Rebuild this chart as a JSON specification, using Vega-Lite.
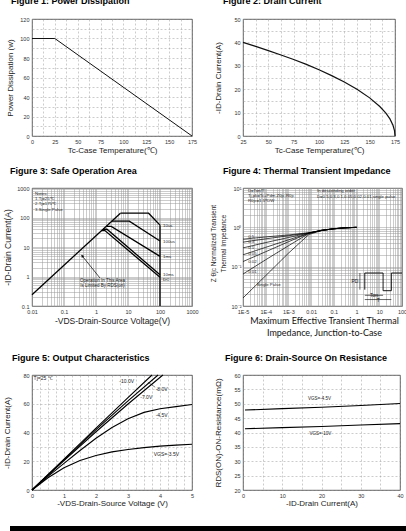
{
 "$schema": "https://vega.github.io/schema/vega-lite/v6.json",
 "padding": {"left": 0, "top": -4, "right": 0, "bottom": 0},
 "background": "white",
 "spacing": 0,
 "bounds": "flush",
 "columns": 5,
 "config": {
  "font": "Liberation Sans",
  "view": {"stroke": null},
  "axis": {"labelFontSize": 5.5, "labelColor": "#333", "labelFont": "Liberation Sans", "titleFont": "Liberation Sans", "titleFontSize": 8, "titleFontWeight": "normal", "titleColor": "#222", "domain": false, "ticks": false, "tickSize": 0, "labelPadding": 3, "labelFlush": false, "labelOverlap": false, "gridColor": "#999", "gridWidth": 0.5},
  "title": {"font": "Liberation Sans", "fontSize": 9, "fontWeight": "bold", "anchor": "start", "frame": "group", "baseline": "bottom", "offset": 10, "color": "#000"}
 },
 "datasets": {
  "d1": [{"x": 0, "y": 100}, {"x": 25, "y": 100}, {"x": 175, "y": 0}],
  "d2": [{"x": 25, "y": 40}, {"x": 37.5, "y": 38.3}, {"x": 50, "y": 36.5}, {"x": 62.5, "y": 34.6}, {"x": 75, "y": 32.7}, {"x": 87.5, "y": 30.6}, {"x": 100, "y": 28.3}, {"x": 112.5, "y": 25.8}, {"x": 125, "y": 23.1}, {"x": 137.5, "y": 20}, {"x": 150, "y": 16.3}, {"x": 160, "y": 12.6}, {"x": 166, "y": 9.8}, {"x": 170, "y": 7.3}, {"x": 173, "y": 4.6}, {"x": 174.5, "y": 2.3}, {"x": 175, "y": 0}],
  "d3": [
   {"s": "rds", "i": 0, "x": 0.01, "y": 0.24}, {"s": "rds", "i": 1, "x": 5.8, "y": 140},
   {"s": "us10", "i": 0, "x": 5.8, "y": 140}, {"s": "us10", "i": 1, "x": 44, "y": 140}, {"s": "us10", "i": 2, "x": 100, "y": 55},
   {"s": "us100", "i": 0, "x": 3.1, "y": 75}, {"s": "us100", "i": 1, "x": 11, "y": 75}, {"s": "us100", "i": 2, "x": 100, "y": 16},
   {"s": "ms1", "i": 0, "x": 2.1, "y": 50}, {"s": "ms1", "i": 1, "x": 3, "y": 50}, {"s": "ms1", "i": 2, "x": 100, "y": 4.8},
   {"s": "ms10", "i": 0, "x": 1.65, "y": 40}, {"s": "ms10", "i": 1, "x": 2.2, "y": 40}, {"s": "ms10", "i": 2, "x": 100, "y": 1.15},
   {"s": "dc", "i": 0, "x": 1.5, "y": 36}, {"s": "dc", "i": 1, "x": 1.9, "y": 36}, {"s": "dc", "i": 2, "x": 100, "y": 0.95},
   {"s": "bv", "i": 0, "x": 100, "y": 0.1}, {"s": "bv", "i": 1, "x": 100, "y": 55}
  ],
  "d3a": [{"i": 0, "x": 1.33, "y": 0.89}, {"i": 1, "x": 0.37, "y": 5}],
  "d3h": [{"x": 0.37, "y": 5}],
  "d3n": [
   {"x": 0.0125, "y": 650, "t": "Notes:"}, {"x": 0.0125, "y": 430, "t": "1.Tj=25℃"}, {"x": 0.0125, "y": 280, "t": "2.Tj=175℃"}, {"x": 0.0125, "y": 180, "t": "3.Single Pulse"},
   {"x": 125, "y": 50, "t": "10us"}, {"x": 125, "y": 15, "t": "100us"}, {"x": 125, "y": 4.6, "t": "1ms"}, {"x": 125, "y": 1.15, "t": "10ms"}, {"x": 125, "y": 0.77, "t": "DC"}
  ],
  "d3c": [{"x": 1.6, "y": 0.68, "t": "Operation In This Area"}, {"x": 1.6, "y": 0.47, "t": "Is Limited By RDS(on)"}],
  "d4": [
   {"s": "0.5", "x": 0.00001, "y": 0.5}, {"s": "0.5", "x": 0.0001, "y": 0.57}, {"s": "0.5", "x": 0.001, "y": 0.64}, {"s": "0.5", "x": 0.008, "y": 0.73}, {"s": "0.5", "x": 0.03, "y": 0.84}, {"s": "0.5", "x": 0.1, "y": 0.92}, {"s": "0.5", "x": 0.3, "y": 0.97}, {"s": "0.5", "x": 1, "y": 1},
   {"s": "0.3", "x": 0.00001, "y": 0.42}, {"s": "0.3", "x": 0.0001, "y": 0.51}, {"s": "0.3", "x": 0.001, "y": 0.61}, {"s": "0.3", "x": 0.008, "y": 0.72}, {"s": "0.3", "x": 0.03, "y": 0.84}, {"s": "0.3", "x": 0.1, "y": 0.92}, {"s": "0.3", "x": 0.3, "y": 0.97}, {"s": "0.3", "x": 1, "y": 1},
   {"s": "0.1", "x": 0.00001, "y": 0.3}, {"s": "0.1", "x": 0.0001, "y": 0.41}, {"s": "0.1", "x": 0.001, "y": 0.55}, {"s": "0.1", "x": 0.008, "y": 0.72}, {"s": "0.1", "x": 0.03, "y": 0.84}, {"s": "0.1", "x": 0.1, "y": 0.92}, {"s": "0.1", "x": 0.3, "y": 0.97}, {"s": "0.1", "x": 1, "y": 1},
   {"s": "0.05", "x": 0.00001, "y": 0.2}, {"s": "0.05", "x": 0.0001, "y": 0.31}, {"s": "0.05", "x": 0.001, "y": 0.48}, {"s": "0.05", "x": 0.008, "y": 0.71}, {"s": "0.05", "x": 0.03, "y": 0.84}, {"s": "0.05", "x": 0.1, "y": 0.92}, {"s": "0.05", "x": 0.3, "y": 0.97}, {"s": "0.05", "x": 1, "y": 1},
   {"s": "0.02", "x": 0.00001, "y": 0.135}, {"s": "0.02", "x": 0.0001, "y": 0.24}, {"s": "0.02", "x": 0.001, "y": 0.43}, {"s": "0.02", "x": 0.008, "y": 0.71}, {"s": "0.02", "x": 0.03, "y": 0.84}, {"s": "0.02", "x": 0.1, "y": 0.92}, {"s": "0.02", "x": 0.3, "y": 0.97}, {"s": "0.02", "x": 1, "y": 1},
   {"s": "0.01", "x": 0.00001, "y": 0.065}, {"s": "0.01", "x": 0.0001, "y": 0.15}, {"s": "0.01", "x": 0.001, "y": 0.34}, {"s": "0.01", "x": 0.008, "y": 0.7}, {"s": "0.01", "x": 0.03, "y": 0.84}, {"s": "0.01", "x": 0.1, "y": 0.92}, {"s": "0.01", "x": 0.3, "y": 0.97}, {"s": "0.01", "x": 1, "y": 1},
   {"s": "sp", "x": 0.00001, "y": 0.016}, {"s": "sp", "x": 0.0001, "y": 0.059}, {"s": "sp", "x": 0.001, "y": 0.22}, {"s": "sp", "x": 0.008, "y": 0.66}, {"s": "sp", "x": 0.03, "y": 0.83}, {"s": "sp", "x": 0.1, "y": 0.92}, {"s": "sp", "x": 0.3, "y": 0.97}, {"s": "sp", "x": 1, "y": 1}
  ],
  "d4w": [{"i": 0, "x": 2.3, "y": 0.026}, {"i": 1, "x": 2.3, "y": 0.069}, {"i": 2, "x": 14.7, "y": 0.069}, {"i": 3, "x": 14.7, "y": 0.0245}, {"i": 4, "x": 34, "y": 0.0245}, {"i": 5, "x": 34, "y": 0.069}, {"i": 6, "x": 100, "y": 0.069}],
  "d4r": [
   {"s": "pd", "i": 0, "x": 1.4, "y": 0.026}, {"s": "pd", "i": 1, "x": 1.4, "y": 0.069},
   {"s": "ton", "i": 0, "x": 2.3, "y": 0.0187}, {"s": "ton", "i": 1, "x": 14.7, "y": 0.0187},
   {"s": "t", "i": 0, "x": 2.3, "y": 0.0146}, {"s": "t", "i": 1, "x": 34, "y": 0.0146}
  ],
  "d4n": [
   {"x": 0.0000165, "y": 8.4, "t": "D=Ton/T"}, {"x": 0.0000165, "y": 6.2, "t": "Tj,pk=Tc+Pdm.Zθjc.Rθjc"}, {"x": 0.0000165, "y": 4.6, "t": "Rθjc=1.5℃/W"},
   {"x": 0.018, "y": 8.4, "t": "In descending order"}, {"x": 0.018, "y": 6.0, "t": "D=0.5,0.3,0.1,0.05,0.02,0.01,single pulse"},
   {"x": 0.000017, "y": 0.575, "t": "0.5"}, {"x": 0.000017, "y": 0.43, "t": "0.3"}, {"x": 0.000017, "y": 0.3, "t": "0.1"}, {"x": 0.000017, "y": 0.206, "t": "0.05"}, {"x": 0.000017, "y": 0.13, "t": "0.02"}, {"x": 0.000017, "y": 0.072, "t": "0.01"}, {"x": 0.00004, "y": 0.035, "t": "Single Pulse"}
  ],
  "d4c": [{"x": 0.85, "y": 0.042, "t": "PD"}, {"x": 5.8, "y": 0.0187, "t": "Ton"}, {"x": 9, "y": 0.0146, "t": "T"}],
  "d5": [
   {"s": "-10", "x": 0, "y": 0}, {"s": "-10", "x": 1, "y": 21.5}, {"s": "-10", "x": 2, "y": 43}, {"s": "-10", "x": 3, "y": 64.2}, {"s": "-10", "x": 3.75, "y": 80},
   {"s": "-8", "x": 0, "y": 0}, {"s": "-8", "x": 1, "y": 21}, {"s": "-8", "x": 2, "y": 42}, {"s": "-8", "x": 3, "y": 62}, {"s": "-8", "x": 3.94, "y": 80},
   {"s": "-7", "x": 0, "y": 0}, {"s": "-7", "x": 1, "y": 20.5}, {"s": "-7", "x": 2, "y": 40.5}, {"s": "-7", "x": 3, "y": 59.8}, {"s": "-7", "x": 4.09, "y": 80},
   {"s": "-4.5", "x": 0, "y": 0}, {"s": "-4.5", "x": 0.5, "y": 9.5}, {"s": "-4.5", "x": 1, "y": 18.5}, {"s": "-4.5", "x": 1.5, "y": 27.5}, {"s": "-4.5", "x": 2, "y": 36}, {"s": "-4.5", "x": 2.5, "y": 43.5}, {"s": "-4.5", "x": 3, "y": 49.5}, {"s": "-4.5", "x": 3.5, "y": 54}, {"s": "-4.5", "x": 4, "y": 56.5}, {"s": "-4.5", "x": 4.5, "y": 58}, {"s": "-4.5", "x": 5, "y": 59.5},
   {"s": "-3.5", "x": 0, "y": 0}, {"s": "-3.5", "x": 0.5, "y": 8.5}, {"s": "-3.5", "x": 1, "y": 15.5}, {"s": "-3.5", "x": 1.5, "y": 20.5}, {"s": "-3.5", "x": 2, "y": 24}, {"s": "-3.5", "x": 2.5, "y": 26.5}, {"s": "-3.5", "x": 3, "y": 28.2}, {"s": "-3.5", "x": 3.5, "y": 29.5}, {"s": "-3.5", "x": 4, "y": 30.5}, {"s": "-3.5", "x": 4.5, "y": 31.2}, {"s": "-3.5", "x": 5, "y": 31.8}
  ],
  "d5l": [{"i": 0, "x": 3.62, "y": 75}, {"i": 1, "x": 3.85, "y": 71.5}],
  "d5n": [{"x": 0.05, "y": 77.7, "t": "Tj=25 ℃"}],
  "d5c": [{"x": 2.96, "y": 75.8, "t": "-10.0V"}, {"x": 4.05, "y": 70.3, "t": "-8.0V"}, {"x": 3.57, "y": 64.7, "t": "-7.0V"}, {"x": 4.05, "y": 52.2, "t": "-4.5V"}, {"x": 4.2, "y": 24.8, "t": "VGS=-3.5V"}],
  "d6": [
   {"s": "a", "x": 0.5, "y": 47.8}, {"s": "a", "x": 10, "y": 48.3}, {"s": "a", "x": 20, "y": 48.8}, {"s": "a", "x": 30, "y": 49.4}, {"s": "a", "x": 40, "y": 50.1},
   {"s": "b", "x": 0.5, "y": 41.3}, {"s": "b", "x": 10, "y": 41.7}, {"s": "b", "x": 20, "y": 42.1}, {"s": "b", "x": 30, "y": 42.6}, {"s": "b", "x": 40, "y": 43.1}
  ],
  "d6c": [{"x": 19.5, "y": 51.6, "t": "VGS=-4.5V"}, {"x": 19.7, "y": 39.6, "t": "VGS=-10V"}],
  "one": [{"k": 1}]
 },
 "concat": [
  {"data": {"name": "one"}, "mark": {"type": "point", "opacity": 0}, "width": 10, "height": 16},
  {"data": {"name": "one"}, "mark": {"type": "point", "opacity": 0}, "width": 22, "height": 16},
  {"data": {"name": "one"}, "mark": {"type": "point", "opacity": 0}, "width": 160, "height": 16},
  {"data": {"name": "one"}, "mark": {"type": "point", "opacity": 0}, "width": 51, "height": 16},
  {"data": {"name": "one"}, "mark": {"type": "point", "opacity": 0}, "width": 152, "height": 16},

  {"data": {"name": "one"}, "mark": {"type": "point", "opacity": 0}, "width": 10, "height": 117},
  {"data": {"name": "one"}, "mark": {"type": "point", "opacity": 0}, "width": 22, "height": 117},
  {"width": 160, "height": 117,
   "title": {"text": "Figure 1: Power Dissipation", "dx": -21, "offset": 11},
   "view": {"stroke": "#333", "strokeWidth": 0.8},
   "data": {"name": "d1"},
   "mark": {"type": "line", "color": "#111", "strokeWidth": 1},
   "encoding": {
    "x": {"field": "x", "type": "quantitative", "scale": {"domain": [0, 175], "nice": false}, "axis": {"title": "Tc-Case Temperature(℃)", "values": [0, 12.5, 25, 37.5, 50, 62.5, 75, 87.5, 100, 112.5, 125, 137.5, 150, 162.5, 175], "labelExpr": "datum.value % 25 == 0 ? datum.label : ''", "grid": true, "gridDash": [2, 2], "titleY": 14, "titleBaseline": "middle"}},
    "y": {"field": "y", "type": "quantitative", "scale": {"domain": [0, 120], "nice": false}, "axis": {"title": "Power Dissipation (w)", "values": [0, 10, 20, 30, 40, 50, 60, 70, 80, 90, 100, 110, 120], "labelExpr": "datum.value % 20 == 0 ? datum.label : ''", "grid": true, "gridDash": [2, 2], "titleX": -22, "titleY": 58.5, "titleBaseline": "middle"}}
   }
  },
  {"data": {"name": "one"}, "mark": {"type": "point", "opacity": 0}, "width": 51, "height": 117},
  {"width": 152, "height": 117,
   "title": {"text": "Figure 2: Drain Current", "dx": -20, "offset": 11},
   "view": {"stroke": "#333", "strokeWidth": 0.8},
   "data": {"name": "d2"},
   "mark": {"type": "line", "color": "#111", "strokeWidth": 1.2},
   "encoding": {
    "x": {"field": "x", "type": "quantitative", "scale": {"domain": [25, 175], "nice": false, "zero": false}, "axis": {"title": "Tc-Case Temperature(℃)", "values": [25, 37.5, 50, 62.5, 75, 87.5, 100, 112.5, 125, 137.5, 150, 162.5, 175], "labelExpr": "datum.value % 25 == 0 ? datum.label : ''", "grid": true, "gridDash": [2, 2], "titleY": 14, "titleBaseline": "middle"}},
    "y": {"field": "y", "type": "quantitative", "scale": {"domain": [0, 50], "nice": false}, "axis": {"title": "-ID-Drain Current(A)", "values": [0, 5, 10, 15, 20, 25, 30, 35, 40, 45, 50], "labelExpr": "datum.value % 10 == 0 ? datum.label : ''", "grid": true, "gridDash": [2, 2], "titleX": -25, "titleY": 58.5, "titleBaseline": "middle"}}
   }
  },

  {"data": {"name": "one"}, "mark": {"type": "point", "opacity": 0}, "width": 10, "height": 52},
  {"data": {"name": "one"}, "mark": {"type": "point", "opacity": 0}, "width": 22, "height": 52},
  {"data": {"name": "one"}, "mark": {"type": "point", "opacity": 0}, "width": 160, "height": 52},
  {"data": {"name": "one"}, "mark": {"type": "point", "opacity": 0}, "width": 51, "height": 52},
  {"data": {"name": "one"}, "mark": {"type": "point", "opacity": 0}, "width": 152, "height": 52},

  {"data": {"name": "one"}, "mark": {"type": "point", "opacity": 0}, "width": 10, "height": 118},
  {"data": {"name": "one"}, "mark": {"type": "point", "opacity": 0}, "width": 22, "height": 118},
  {"width": 160, "height": 118,
   "title": {"text": "Figure 3: Safe Operation Area", "dx": -22},
   "view": {"stroke": "#333", "strokeWidth": 0.8},
   "encoding": {
    "x": {"field": "x", "type": "quantitative", "scale": {"type": "log", "domain": [0.01, 1000], "nice": false}, "axis": {"title": "-VDS-Drain-Source Voltage(V)", "values": [0.01, 0.02, 0.03, 0.04, 0.05, 0.06, 0.07, 0.08, 0.09, 0.1, 0.2, 0.3, 0.4, 0.5, 0.6, 0.7, 0.8, 0.9, 1, 2, 3, 4, 5, 6, 7, 8, 9, 10, 20, 30, 40, 50, 60, 70, 80, 90, 100, 200, 300, 400, 500, 600, 700, 800, 900, 1000], "labelExpr": "indexof([0.01, 0.1, 1, 10, 100, 1000], datum.value) >= 0 ? format(datum.value, '~g') : ''", "grid": true, "titleY": 14, "titleBaseline": "middle", "titleFontSize": 8.5}},
    "y": {"field": "y", "type": "quantitative", "scale": {"type": "log", "domain": [0.1, 1000], "nice": false}, "axis": {"title": "-ID-Drain Current(A)", "values": [0.1, 0.2, 0.3, 0.4, 0.5, 0.6, 0.7, 0.8, 0.9, 1, 2, 3, 4, 5, 6, 7, 8, 9, 10, 20, 30, 40, 50, 60, 70, 80, 90, 100, 200, 300, 400, 500, 600, 700, 800, 900, 1000], "labelExpr": "indexof([0.1, 1, 10, 100, 1000], datum.value) >= 0 ? format(datum.value, '~g') : ''", "grid": true, "titleX": -25, "titleY": 59, "titleBaseline": "middle", "titleFontSize": 8.5}}
   },
   "layer": [
    {"data": {"name": "d3"}, "mark": {"type": "line", "color": "#000", "strokeWidth": 1.3}, "encoding": {"detail": {"field": "s"}, "order": {"field": "i"}}},
    {"data": {"name": "d3a"}, "mark": {"type": "line", "color": "#000", "strokeWidth": 0.7}, "encoding": {"order": {"field": "i"}}},
    {"data": {"name": "d3h"}, "mark": {"type": "point", "shape": "triangle-up", "filled": true, "color": "#000", "size": 10, "angle": -40, "opacity": 1}},
    {"data": {"name": "d3n"}, "mark": {"type": "text", "align": "left", "fontSize": 4.3, "color": "#222"}, "encoding": {"text": {"field": "t"}}},
    {"data": {"name": "d3c"}, "mark": {"type": "text", "align": "center", "fontSize": 4.5, "color": "#222"}, "encoding": {"text": {"field": "t"}}}
   ]
  },
  {"data": {"name": "one"}, "mark": {"type": "point", "opacity": 0}, "width": 51, "height": 118},
  {"width": 159, "height": 118,
   "title": {"text": "Figure 4: Thermal Transient Impedance", "dx": -20},
   "view": {"stroke": "#333", "strokeWidth": 0.8},
   "encoding": {
    "x": {"field": "x", "type": "quantitative", "scale": {"type": "log", "domain": [0.00001, 100], "nice": false}, "axis": {"title": ["Maximum Effective Transient Thermal", "Impedance, Junction-to-Case"], "titleFont": "Lato", "titleFontSize": 9, "titleLineHeight": 12, "titleColor": "#111", "values": [0.00001, 0.00002, 0.00003, 0.00004, 0.00005, 0.00006, 0.00007, 0.00008, 0.00009, 0.0001, 0.0002, 0.0003, 0.0004, 0.0005, 0.0006, 0.0007, 0.0008, 0.0009, 0.001, 0.002, 0.003, 0.004, 0.005, 0.006, 0.007, 0.008, 0.009, 0.01, 0.02, 0.03, 0.04, 0.05, 0.06, 0.07, 0.08, 0.09, 0.1, 0.2, 0.3, 0.4, 0.5, 0.6, 0.7, 0.8, 0.9, 1, 2, 3, 4, 5, 6, 7, 8, 9, 10, 20, 30, 40, 50, 60, 70, 80, 90, 100], "labelExpr": "datum.value == 0.00001 ? '1E-5' : datum.value == 0.0001 ? '1E-4' : datum.value == 0.001 ? '1E-3' : datum.value == 0.01 ? '0.01' : datum.value == 0.1 ? '0.1' : datum.value == 1 ? '1' : datum.value == 10 ? '10' : datum.value == 100 ? '100' : ''", "grid": true, "titleX": 81, "titleY": 10, "titleBaseline": "top", "titleAlign": "center"}},
    "y": {"field": "y", "type": "quantitative", "scale": {"type": "log", "domain": [0.01, 10], "nice": false}, "axis": {"title": ["Z θjc        Normalized Transient", "          Thermal    Impedance"], "titleFontSize": 6.5, "titleLineHeight": 10, "values": [0.01, 0.02, 0.03, 0.04, 0.05, 0.06, 0.07, 0.08, 0.09, 0.1, 0.2, 0.3, 0.4, 0.5, 0.6, 0.7, 0.8, 0.9, 1, 2, 3, 4, 5, 6, 7, 8, 9, 10], "labelExpr": "datum.value == 0.01 ? '10⁻²' : datum.value == 0.1 ? '10⁻¹' : datum.value == 1 ? '10⁰' : datum.value == 10 ? '10¹' : ''", "grid": true, "titleX": -30, "titleY": 55, "titleBaseline": "middle", "labelPadding": 2}}
   },
   "layer": [
    {"data": {"name": "d4"}, "mark": {"type": "line", "color": "#000", "strokeWidth": 0.7}, "encoding": {"detail": {"field": "s"}}},
    {"data": {"name": "d4w"}, "mark": {"type": "line", "color": "#000", "strokeWidth": 0.9}, "encoding": {"order": {"field": "i"}}},
    {"data": {"name": "d4r"}, "mark": {"type": "line", "color": "#000", "strokeWidth": 0.6}, "encoding": {"detail": {"field": "s"}, "order": {"field": "i"}}},
    {"data": {"name": "d4n"}, "mark": {"type": "text", "align": "left", "fontSize": 4.3, "color": "#222"}, "encoding": {"text": {"field": "t"}}},
    {"data": {"name": "d4c"}, "mark": {"type": "text", "align": "center", "fontSize": 5, "color": "#222"}, "encoding": {"text": {"field": "t"}}}
   ]
  },

  {"data": {"name": "one"}, "mark": {"type": "point", "opacity": 0}, "width": 10, "height": 69},
  {"data": {"name": "one"}, "mark": {"type": "point", "opacity": 0}, "width": 22, "height": 69},
  {"data": {"name": "one"}, "mark": {"type": "point", "opacity": 0}, "width": 160, "height": 69},
  {"data": {"name": "one"}, "mark": {"type": "point", "opacity": 0}, "width": 51, "height": 69},
  {"data": {"name": "one"}, "mark": {"type": "point", "opacity": 0}, "width": 152, "height": 69},

  {"data": {"name": "one"}, "mark": {"type": "point", "opacity": 0}, "width": 10, "height": 115},
  {"data": {"name": "one"}, "mark": {"type": "point", "opacity": 0}, "width": 22, "height": 115},
  {"width": 160, "height": 115,
   "title": {"text": "Figure 5: Output Characteristics", "dx": -20},
   "view": {"stroke": "#333", "strokeWidth": 0.8},
   "encoding": {
    "x": {"field": "x", "type": "quantitative", "scale": {"domain": [0, 5], "nice": false}, "axis": {"title": "-VDS-Drain-Source Voltage (V)", "values": [0, 0.25, 0.5, 0.75, 1, 1.25, 1.5, 1.75, 2, 2.25, 2.5, 2.75, 3, 3.25, 3.5, 3.75, 4, 4.25, 4.5, 4.75, 5], "labelExpr": "datum.value % 1 == 0 ? format(datum.value, 'd') : ''", "grid": true, "gridDash": [2, 2], "titleY": 13, "titleBaseline": "middle"}},
    "y": {"field": "y", "type": "quantitative", "scale": {"domain": [0, 80], "nice": false}, "axis": {"title": "-ID-Drain Current(A)", "values": [0, 10, 20, 30, 40, 50, 60, 70, 80], "labelExpr": "datum.value % 20 == 0 ? datum.label : ''", "grid": true, "gridDash": [2, 2], "titleX": -25, "titleY": 57.5, "titleBaseline": "middle"}}
   },
   "layer": [
    {"data": {"name": "d5"}, "mark": {"type": "line", "color": "#000", "strokeWidth": 1.1}, "encoding": {"detail": {"field": "s"}}},
    {"data": {"name": "d5l"}, "mark": {"type": "line", "color": "#000", "strokeWidth": 0.5}, "encoding": {"order": {"field": "i"}}},
    {"data": {"name": "d5n"}, "mark": {"type": "text", "align": "left", "fontSize": 5, "color": "#222"}, "encoding": {"text": {"field": "t"}}},
    {"data": {"name": "d5c"}, "mark": {"type": "text", "align": "center", "fontSize": 5, "color": "#222"}, "encoding": {"text": {"field": "t"}}}
   ]
  },
  {"data": {"name": "one"}, "mark": {"type": "point", "opacity": 0}, "width": 51, "height": 115},
  {"width": 157, "height": 115,
   "title": {"text": "Figure 6: Drain-Source On Resistance", "dx": -18},
   "view": {"stroke": "#333", "strokeWidth": 0.8},
   "encoding": {
    "x": {"field": "x", "type": "quantitative", "scale": {"domain": [0, 40], "nice": false}, "axis": {"title": "-ID-Drain Current(A)", "values": [0, 5, 10, 15, 20, 25, 30, 35, 40], "labelExpr": "datum.value % 10 == 0 ? datum.label : ''", "grid": true, "gridDash": [2, 2], "titleY": 13, "titleBaseline": "middle"}},
    "y": {"field": "y", "type": "quantitative", "scale": {"domain": [20, 60], "nice": false, "zero": false}, "axis": {"title": "RDS(ON)-ON-Resistance(mΩ)", "values": [20, 25, 30, 35, 40, 45, 50, 55, 60], "grid": true, "gridDash": [2, 2], "titleX": -25, "titleY": 57.5, "titleBaseline": "middle"}}
   },
   "layer": [
    {"data": {"name": "d6"}, "mark": {"type": "line", "color": "#000", "strokeWidth": 1.1}, "encoding": {"detail": {"field": "s"}}},
    {"data": {"name": "d6c"}, "mark": {"type": "text", "align": "center", "fontSize": 4.5, "color": "#222"}, "encoding": {"text": {"field": "t"}}}
   ]
  },

  {"data": {"name": "one"}, "mark": {"type": "point", "opacity": 0}, "width": 10, "height": 36},
  {"data": {"name": "one"}, "mark": {"type": "point", "opacity": 0}, "width": 22, "height": 36},
  {"data": {"name": "one"}, "mark": {"type": "point", "opacity": 0}, "width": 160, "height": 36},
  {"data": {"name": "one"}, "mark": {"type": "point", "opacity": 0}, "width": 51, "height": 36},
  {"data": {"name": "one"}, "mark": {"type": "point", "opacity": 0}, "width": 152, "height": 36},

  {"data": {"name": "one"}, "mark": {"type": "point", "opacity": 0}, "width": 10, "height": 8},
  {"data": {"name": "one"}, "mark": {"type": "rect", "color": "#000"}, "width": 22, "height": 8, "view": {"fill": "#000"}},
  {"data": {"name": "one"}, "mark": {"type": "rect", "color": "#000"}, "width": 160, "height": 8, "view": {"fill": "#000"}},
  {"data": {"name": "one"}, "mark": {"type": "rect", "color": "#000"}, "width": 51, "height": 8, "view": {"fill": "#000"}},
  {"data": {"name": "one"}, "mark": {"type": "rect", "color": "#000"}, "width": 163, "height": 8, "view": {"fill": "#000"}}
 ]
}
